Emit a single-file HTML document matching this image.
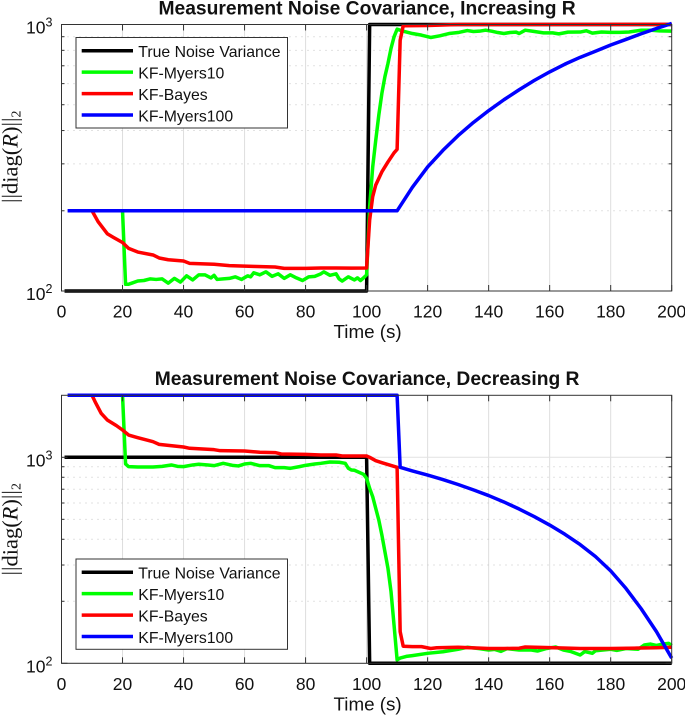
<!DOCTYPE html>
<html lang="en">
<head>
<meta charset="utf-8">
<title>Measurement Noise Covariance</title>
<style>
html,body{margin:0;padding:0;background:#fff;width:685px;height:719px;overflow:hidden}
svg{display:block;filter:blur(0.35px)}
text{font-family:"Liberation Sans",sans-serif;fill:#111}
</style>
</head>
<body>
<svg id="chart" xmlns="http://www.w3.org/2000/svg" width="685" height="719" viewBox="0 0 685 719"></svg>
<script>
// Shared axis data
const xTickValues = [0,20,40,60,80,100,120,140,160,180,200];
const yMajorTickValues = [100,1000];
const yMinorTickValues = [200,300,400,500,600,700,800,900];
const legendLabels = ['True Noise Variance','KF-Myers10','KF-Bayes','KF-Myers100'];
const seriesColors = ['#000000','#00ff00','#ff0000','#0000ff'];

// Top panel: increasing R
const incBlackT = [1,100,101,200];
const incBlackV = [100,100,1000,1000];
const incGreenT = [20,21,22,23,25,27,29,31,33,35,37,39,41,43,45,47,49,50,51,53,55,57,59,61,62,63,65,67,69,71,73,75,77,79,81,83,85,86,88,90,91,92,94,96,97,98,99,100,101,102,103,104,105,106,107,108,109,110,111,112,115,118,121,124,127,130,133,135,137,139,141,143,145,147,149,150,152,155,158,161,163,166,170,172,174,177,180,183,186,190,193,196,200];
const incGreenV = [200,106,106,107,109,109.5,111,110.5,111,107,111.5,108,114,110,115,115,112,114.5,110.5,111,111.5,113,110.5,114,113,117,115,118,113.5,116,111.5,115,112,109.5,113,113.5,116,118,114.5,116,111,109,113,110,112,109.5,112,115,207,292,368,457,551,637,714,813,899,960,952,944,925,912,894,907,925,933,949,941,944,952,944,933,925,933,936,925,952,941,930,930,922,936,937,947,928,937,934,934,937,952,952,946,944];
const incRedT = [10,12,15,17,20,22,25,30,32,35,40,42,50,55,60,70,73,80,85,90,95,100,101,102,103,105,107,109,110,111,112,120,130,200];
const incRedV = [200,182,164,159,152,144.5,140,136.5,133,131,129.6,127,126,124.5,124,123,121.6,121.6,122,122,121.8,122,184.6,226,250,280,305,330,340,873,989,991,1000,1001];
const incBlueT = [2,110,115,120,125,130,135,140,145,150,155,160,165,170,175,180,185,190,195,200];
const incBlueV = [200,200,245,292,337,383,429,475,522,569,617,664,710,753,794,838,879,923,966,1009];

// Bottom panel: decreasing R
const decBlackT = [1,100,101,200];
const decBlackV = [1000,1000,100,100];
const decGreenT = [20,21,22,25,30,33,36,38,40,43,45,48,50,53,56,58,60,62,65,68,70,73,75,78,80,83,85,88,91,93,94,95,96,99,100,101,102,103,104,105,106,107,108,109,110,111,113,115,120,125,130,133,137,140,142,144,146,150,154,156,159,162,164.5,167,170,171.5,174,175,180,182,185,189,191,193,195,197,199,200];
const decGreenV = [2000,928,901,897,897,904,918,904,901,918,925,918,911,935,914,908,928,935,911,911,891,891,884,901,914,928,935,949,946,935,885,868,865,827,791,707,644,565,496,420,348,289,223,153,104,106,108,109,111.8,113.8,117,119.6,117.8,116,116.8,114.3,117.8,116,116,114.7,118,120,116,114,109.7,114,111.8,115,117,115.5,118,117,122.7,124,122,124,125,122];
const decRedT = [10,11,13,15,18,20,22,25,28,30,32,35,40,42,50,52,60,65,70,72,80,85,90,92,100,101,103,105,110,111,112,115,118,121,123,130,140,145,150,152,160,170,180,190,195,200];
const decRedV = [2000,1863,1635,1518,1425,1357,1283,1246,1213,1191,1156,1143,1122,1106,1089,1077,1073,1058,1054,1038,1034,1026,1026,1015,1015,1000,963,942,894,142.5,121,120.5,120.5,118,119,119.6,118,118,118.4,120,119.2,118,118,118.6,119,119.6];
const decBlueT = [2,110,111,115,120,125,130,135,140,145,150,155,160,165,170,175,180,185,190,195,200];
const decBlueV = [2000,2000,894,859,820,780,738,695,652,607,561,515,469,423,377,330,281,231,184,142.5,106];

const svg = document.getElementById('chart');
const NS = 'http://www.w3.org/2000/svg';

function make(tag, attrs, parent) {
  const el = document.createElementNS(NS, tag);
  for (const k in attrs) el.setAttribute(k, attrs[k]);
  parent.appendChild(el);
  return el;
}

function drawPanel(prefix, title, box, yMax, series, legendBox) {
  const xScale = t => box.left + (t - 0) / 200 * (box.right - box.left);
  const yScale = v => box.bottom - Math.log10(v / 100) / Math.log10(yMax / 100) * (box.bottom - box.top);

  const g = make('g', {}, svg);
  
  

  // Grid
  const grid = make('g', {}, g);
  
  
  xTickValues.slice(1, -1).forEach(t => {
    make('line', {x1:xScale(t), x2:xScale(t), y1:box.top, y2:box.bottom, stroke:'#dedede', 'stroke-width':1}, grid);
  });
  yMinorTickValues.concat(yMajorTickValues).forEach(v => {
    if (v > yMax) return;
    const major = yMajorTickValues.includes(v);
    make('line', {x1:box.left, x2:box.right, y1:yScale(v), y2:yScale(v), stroke: major ? '#e2e2e2' : '#c4c4c4', 'stroke-width':1, 'stroke-dasharray': major ? 'none' : '1 5'}, grid);
  });

  // Series
  series.forEach((s, i) => {
    const d = s.t.map((t, j) => (j ? 'L' : 'M') + xScale(t).toFixed(2) + ' ' + yScale(s.v[j]).toFixed(2)).join('');
    const p = make('path', {d:d, fill:'none', stroke:seriesColors[i], 'stroke-width':3.5, 'stroke-linejoin':'round'}, g);
    
    
  });

  // Axes box and ticks
  const axes = make('g', {stroke:'#333', 'stroke-width':1, fill:'none'}, g);
  
  
  make('rect', {x:box.left, y:box.top, width:box.right - box.left, height:box.bottom - box.top}, axes);
  xTickValues.forEach(t => {
    make('line', {x1:xScale(t), x2:xScale(t), y1:box.bottom, y2:box.bottom - 6}, axes);
    make('line', {x1:xScale(t), x2:xScale(t), y1:box.top, y2:box.top + 6}, axes);
  });
  yMajorTickValues.concat(yMinorTickValues).forEach(v => {
    if (v > yMax) return;
    const len = yMajorTickValues.includes(v) ? 6 : 3;
    make('line', {x1:box.left, x2:box.left + len, y1:yScale(v), y2:yScale(v)}, axes);
    make('line', {x1:box.right, x2:box.right - len, y1:yScale(v), y2:yScale(v)}, axes);
  });

  // Tick labels
  xTickValues.forEach(t => {
    const lab = make('text', {x:xScale(t), y:box.bottom + 26.5, 'text-anchor':'middle', 'font-size':17.5}, g);
    lab.textContent = t;
    
    
  });
  yMajorTickValues.forEach(v => {
    const y = yScale(v);
    const lab = make('text', {x:45.5, y:y + 9, 'text-anchor':'end', 'font-size':17.5}, g);
    lab.textContent = '10';
    
    
    const sup = make('text', {x:45.5, y:y + 2, 'font-size':12.5}, g);
    sup.textContent = Math.round(Math.log10(v));
    
    
  });

  // Title and axis titles
  const tt = make('text', {x:(box.left + box.right) / 2 + 0.5, y:box.top - 10.2, 'text-anchor':'middle', 'font-size':19.25, 'font-weight':'bold', fill:'#000'}, g);
  tt.textContent = title;
  
  

  const xl = make('text', {x:(box.left + box.right) / 2 + 1, y:box.bottom + 47, 'text-anchor':'middle', 'font-size':18.8}, g);
  xl.textContent = 'Time (s)';
  
  

  const cy = (box.top + box.bottom) / 2 - (prefix === 'top' ? 1 : 0);
  const yl = make('text', {transform:'translate(17.5 ' + cy + ') rotate(-90)', 'text-anchor':'middle', 'font-size':22.5, style:'font-family:"Liberation Serif",serif', fill:'#222'}, g);
  
  
  const a = make('tspan', {}, yl); a.textContent = '||diag(';
  const b = make('tspan', {'font-style':'italic'}, yl); b.textContent = 'R';
  const c = make('tspan', {}, yl); c.textContent = ')||';
  const e = make('tspan', {dy:3, 'font-size':14}, yl); e.textContent = '2';

  // Legend
  const lg = make('g', {}, g);
  
  
  make('rect', {x:76, y:legendBox.top, width:211.5, height:legendBox.height, fill:'#fff', stroke:'#333', 'stroke-width':1}, lg);
  legendLabels.forEach((name, i) => {
    const ly = legendBox.top + 13.2 + i * 21.45;
    const ln = make('line', {x1:81.7, x2:133, y1:ly, y2:ly, stroke:seriesColors[i], 'stroke-width':3.5}, lg);
    
    
    const tx = make('text', {x:138.3, y:ly + 6.2, 'font-size':15.8}, lg);
    tx.textContent = name;
    
    
  });
}

drawPanel('top', 'Measurement Noise Covariance, Increasing R',
  {left:61.5, right:671.7, top:24.5, bottom:291}, 1000,
  [{t:incBlackT, v:incBlackV}, {t:incGreenT, v:incGreenV}, {t:incRedT, v:incRedV}, {t:incBlueT, v:incBlueV}],
  {top:37.5, height:90.5});

drawPanel('bottom', 'Measurement Noise Covariance, Decreasing R',
  {left:61.5, right:671.7, top:395.3, bottom:663.3}, 2000,
  [{t:decBlackT, v:decBlackV}, {t:decGreenT, v:decGreenV}, {t:decRedT, v:decRedV}, {t:decBlueT, v:decBlueV}],
  {top:559, height:90.3});
</script>
</body>
</html>
